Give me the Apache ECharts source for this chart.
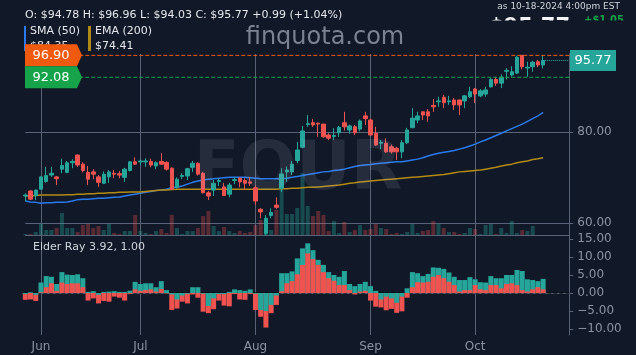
<!DOCTYPE html>
<html>
<head>
<meta charset="utf-8">
<script src="https://cdn.jsdelivr.net/npm/echarts@6/dist/echarts.min.js"></script>
<style>
  html, body { margin: 0; padding: 0; background: #111827; }
  #chart { width: 636px; height: 355px; }
</style>
</head>
<body>
<div id="chart"></div>
<script>
// trading days shown on the chart
var dates = [
  '2024-05-29','2024-05-30','2024-05-31',
  '2024-06-03','2024-06-04','2024-06-05','2024-06-06','2024-06-07','2024-06-10','2024-06-11','2024-06-12','2024-06-13','2024-06-14',
  '2024-06-17','2024-06-18','2024-06-20','2024-06-21','2024-06-24','2024-06-25','2024-06-26','2024-06-27','2024-06-28',
  '2024-07-01','2024-07-02','2024-07-03','2024-07-05','2024-07-08','2024-07-09','2024-07-10','2024-07-11','2024-07-12','2024-07-15',
  '2024-07-16','2024-07-17','2024-07-18','2024-07-19','2024-07-22','2024-07-23','2024-07-24','2024-07-25','2024-07-26','2024-07-29',
  '2024-07-30','2024-07-31',
  '2024-08-01','2024-08-02','2024-08-05','2024-08-06','2024-08-07','2024-08-08','2024-08-09','2024-08-12','2024-08-13','2024-08-14',
  '2024-08-15','2024-08-16','2024-08-19','2024-08-20','2024-08-21','2024-08-22','2024-08-23','2024-08-26','2024-08-27','2024-08-28',
  '2024-08-29','2024-08-30',
  '2024-09-03','2024-09-04','2024-09-05','2024-09-06','2024-09-09','2024-09-10','2024-09-11','2024-09-12','2024-09-13','2024-09-16',
  '2024-09-17','2024-09-18','2024-09-19','2024-09-20','2024-09-23','2024-09-24','2024-09-25','2024-09-26','2024-09-27','2024-09-30',
  '2024-10-01','2024-10-02','2024-10-03','2024-10-04','2024-10-07','2024-10-08','2024-10-09','2024-10-10','2024-10-11','2024-10-14',
  '2024-10-15','2024-10-16','2024-10-17','2024-10-18'
];
// empty slots on the right side of the time axis
var padDates = ['2024-10-21','2024-10-22','2024-10-23','2024-10-24','2024-10-25'];
var monthNames = ['Jan','Feb','Mar','Apr','May','Jun','Jul','Aug','Sep','Oct','Nov','Dec'];

var opens = [
  66.0, 67.1, 66.1,
  67.5, 69.2, 70.6, 70.2, 71.9, 71.2, 73.3, 75.0, 73.0, 71.2,
  71.3, 70.2, 68.8, 70.2, 71.0, 70.9, 70.1, 71.6, 73.5,
  73.5, 73.5, 73.6, 72.6, 73.6, 73.4, 72.1, 67.9, 70.3, 70.4,
  72.3, 73.2, 71.0, 66.7, 67.3, 69.2, 68.0, 66.4, 69.4, 69.9,
  69.4, 69.1,
  67.8, 63.1, 57.8, 61.7, 64.0, 67.7, 71.3, 71.3, 73.8, 76.7,
  81.7, 82.1, 82.0, 81.8, 79.4, 79.1, 79.9, 82.1, 80.5, 81.2,
  80.7, 83.6,
  82.7, 79.8, 77.6, 77.6, 76.8, 76.5, 75.7, 77.7, 81.0, 82.7,
  84.5, 84.5, 85.9, 86.7, 87.7, 86.7, 87.1, 87.1, 86.9, 87.8,
  89.5, 88.0, 88.4, 90.0, 91.6, 90.8, 93.4, 92.6, 93.0, 96.9,
  94.1, 94.4, 95.5, 94.78
];
var closes = [
  66.2, 65.3, 67.3,
  70.2, 70.5, 71.0, 69.8, 72.7, 73.3, 73.6, 72.8, 71.6, 69.7,
  70.8, 69.0, 70.8, 71.3, 70.8, 70.6, 71.9, 73.5, 73.0,
  73.7, 73.7, 72.8, 73.3, 73.0, 71.9, 67.5, 69.7, 70.5, 72.0,
  73.2, 70.8, 66.7, 66.0, 68.8, 69.4, 66.1, 68.4, 69.6, 69.1,
  68.8, 68.8,
  64.9, 62.5, 61.1, 62.4, 63.5, 70.8, 71.7, 73.0, 76.1, 80.3,
  81.9, 81.6, 81.8, 79.0, 78.7, 79.3, 81.1, 81.2, 81.4, 79.9,
  82.5, 83.0,
  79.4, 77.2, 77.8, 75.7, 75.7, 75.7, 77.7, 80.5, 83.1, 83.6,
  83.8, 83.6, 85.6, 86.9, 86.5, 86.9, 86.0, 86.0, 88.0, 88.9,
  88.4, 89.1, 89.3, 91.6, 90.8, 92.1, 93.6, 93.3, 96.5, 94.4,
  94.3, 95.4, 94.78, 95.77
];
var lows = [
  64.9, 65.1, 65.1,
  67.5, 68.9, 70.2, 68.4, 71.0, 71.0, 72.1, 72.4, 71.2, 68.4,
  69.7, 68.0, 68.6, 68.9, 69.9, 69.9, 69.1, 71.4, 72.8,
  72.7, 72.4, 72.3, 71.9, 72.8, 71.6, 67.3, 67.6, 69.7, 69.5,
  71.3, 70.5, 66.6, 65.1, 66.0, 68.2, 66.0, 65.7, 68.6, 67.9,
  67.3, 68.2,
  64.0, 61.1, 57.4, 61.1, 63.1, 66.9, 69.1, 70.6, 73.2, 76.5,
  81.2, 81.2, 79.0, 78.8, 78.3, 78.3, 79.0, 80.4, 79.7, 79.4,
  80.2, 81.6,
  79.3, 77.0, 76.3, 75.5, 75.3, 73.9, 74.3, 77.4, 80.9, 82.0,
  82.7, 82.3, 84.5, 85.6, 85.3, 86.0, 84.9, 83.8, 85.3, 87.5,
  86.4, 87.7, 87.8, 89.8, 90.2, 89.7, 91.6, 92.2, 92.8, 93.8,
  92.2, 93.3, 94.3, 94.03
];
var highs = [
  66.6, 67.3, 67.4,
  70.3, 72.4, 72.4, 70.4, 74.2, 73.7, 74.1, 75.1, 73.4, 72.6,
  71.9, 70.6, 71.4, 71.7, 71.7, 71.5, 72.2, 73.7, 74.5,
  74.0, 74.3, 74.2, 73.6, 75.4, 73.6, 72.3, 70.1, 71.0, 72.2,
  73.7, 73.4, 71.3, 67.1, 69.5, 69.9, 68.9, 68.9, 70.1, 70.1,
  69.9, 70.2,
  68.3, 63.3, 61.8, 63.3, 65.7, 72.1, 72.5, 73.7, 77.9, 81.4,
  83.8, 82.9, 82.1, 81.8, 79.8, 80.9, 81.4, 84.5, 81.7, 81.6,
  82.8, 84.5,
  83.0, 81.2, 78.3, 78.7, 77.3, 76.8, 78.3, 81.0, 85.3, 84.5,
  84.5, 85.1, 87.3, 87.8, 88.2, 88.0, 87.5, 87.1, 88.2, 90.0,
  89.7, 89.5, 90.0, 91.9, 92.2, 92.7, 94.1, 94.5, 96.8, 96.9,
  95.5, 95.7, 95.9, 96.96
];
// volume, thousands of shares
var volumes = [
  25, 25, 75,
  275, 125, 125, 175, 550, 175, 175, 75, 250, 275,
  175, 225, 125, 275, 50, 25, 100, 100, 500,
  100, 50, 25, 100, 150, 50, 500, 175, 25, 100,
  100, 175, 475, 600, 225, 100, 200, 100, 50, 100,
  50, 75,
  250, 375, 425, 125, 625, 1550, 525, 525, 675, 1550,
  725, 475, 600, 500, 100, 350, 50, 325, 75, 125,
  250, 125,
  150, 275, 175, 150, 25, 50, 25, 75, 275, 50,
  100, 125, 350, 275, 175, 75, 75, 25, 50, 175,
  150, 25, 250, 275, 25, 175, 50, 350, 50, 125,
  100, 225, 0, 0
];
var sma50 = [
  64.9, 64.7, 64.6, 64.4, 64.5, 64.5, 64.6, 64.6, 64.7, 64.9,
  65.2, 65.3, 65.3, 65.4, 65.5, 65.5, 65.6, 65.7, 65.8, 66.0,
  66.2, 66.4, 66.6, 66.8, 67.0, 67.2, 67.3, 67.5, 67.8, 68.0,
  68.2, 68.6, 69.0, 69.3, 69.5, 69.7, 69.8, 69.9, 70.0, 70.1,
  70.1, 70.1, 70.1, 70.0, 69.9, 69.8, 69.8, 69.8, 69.8, 69.8,
  69.9, 70.1, 70.3, 70.5, 70.7, 70.9, 71.1, 71.3, 71.4, 71.6,
  71.7, 71.9, 72.2, 72.5, 72.7, 72.8, 72.9, 73.1, 73.2, 73.3,
  73.4, 73.5, 73.5, 73.7, 73.9, 74.1, 74.4, 74.8, 75.1, 75.4,
  75.6, 75.8, 76.0, 76.3, 76.6, 77.0, 77.4, 77.9, 78.3, 78.8,
  79.3, 79.8, 80.3, 80.8, 81.3, 81.8, 82.4, 83.0, 83.6, 84.35
];
var ema200 = [
  66.0, 66.0, 66.1, 66.2, 66.2, 66.2, 66.2, 66.2, 66.3, 66.3,
  66.4, 66.4, 66.5, 66.5, 66.6, 66.6, 66.7, 66.7, 66.8, 66.8,
  66.9, 66.9, 66.9, 67.0, 67.1, 67.2, 67.3, 67.3, 67.4, 67.5,
  67.5, 67.5, 67.5, 67.5, 67.5, 67.5, 67.5, 67.5, 67.5, 67.5,
  67.5, 67.5, 67.5, 67.5, 67.5, 67.5, 67.5, 67.5, 67.5, 67.6,
  67.6, 67.7, 67.7, 67.8, 67.9, 67.9, 68.0, 68.1, 68.2, 68.3,
  68.4, 68.6, 68.8, 68.9, 69.1, 69.2, 69.3, 69.4, 69.5, 69.6,
  69.7, 69.8, 69.9, 70.0, 70.1, 70.2, 70.3, 70.4, 70.5, 70.6,
  70.7, 70.9, 71.1, 71.3, 71.4, 71.5, 71.6, 71.7, 71.9, 72.1,
  72.3, 72.6, 72.8, 73.0, 73.3, 73.5, 73.7, 74.0, 74.2, 74.41
];
// Elder Ray: bull power and bear power
var bullPower = [
  -0.3, 0.2, -0.5,
  2.9, 4.7, 4.5, 2.5, 5.8, 5.1, 5.0, 5.2, 4.1, 0.3,
  0.5, -0.5, 0.3, 0.4, 0.5, 0.3, 0.3, 0.65, 3.1,
  2.5, 2.7, 2.7, 1.6, 3.3, 0.8, -0.4, -1.8, -0.7, -0.2,
  1.6, 1.6, -0.2, -3.6, -1.5, -0.3, -0.3, 0.3, 1.0, 0.8,
  0.6, 1.0,
  -0.2, -4.7, -5.0, -3.3, -0.7, 5.5, 5.5, 6.0, 9.6, 12.4,
  13.8, 11.9, 9.2, 7.8, 5.8, 5.0, 4.5, 6.1, 2.5, 1.9,
  2.5, 3.1,
  1.9, 0.6, -1.8, -1.0, -1.5, -2.7, -1.0, 1.3, 5.8, 5.5,
  4.7, 5.3, 7.1, 7.0, 6.7, 5.7, 4.5, 3.6, 3.6, 4.4,
  3.8, 3.0, 2.9, 4.7, 4.1, 4.1, 5.0, 5.0, 6.4, 6.1,
  3.8, 3.6, 3.3, 3.92
];
var bearPower = [
  -1.9, -1.8, -2.2,
  0.2, 1.6, 2.7, 0.6, 2.9, 2.5, 2.7, 2.7, 1.6, -2.1,
  -1.5, -2.9, -2.2, -2.4, -1.0, -1.3, -2.1, -0.3, 1.0,
  0.6, 0.8, 1.0, 0.4, 1.1, -0.1, -4.7, -4.3, -2.4, -2.9,
  -0.4, -1.3, -5.2, -5.6, -4.5, -2.1, -3.5, -3.7, -0.3, -1.8,
  -1.9, -0.3,
  -4.7, -6.6, -9.6, -5.6, -3.3, 0.5, 2.7, 3.3, 5.2, 7.8,
  11.0, 9.4, 7.8, 5.8, 4.1, 3.4, 2.2, 2.2, 0.8, -0.4,
  0.4, 0.6,
  -2.1, -3.8, -4.0, -4.8, -4.4, -5.5, -5.1, -1.3, 1.6, 3.0,
  2.9, 3.1, 4.5, 5.0, 4.1, 3.1, 2.2, 0.4, 0.8, 0.8,
  2.2, 1.0, 0.8, 2.2, 2.2, 1.3, 2.5, 2.7, 2.2, 0.8,
  0.4, 1.0, 1.6, 1.00
];
var priceTicks = [60, 80];
var elderTicks = [-10, -5, 0, 5, 10, 15];
var levelPrices = [96.90, 92.08];

var BG = '#111827';
var GRID = '#586377';
var AXIS_TEXT = '#8b93a3';
var UP = '#26a69a';
var DOWN = '#ef5350';
var SMA_COLOR = '#2a7af0';
var EMA_COLOR = '#b38b14';
var ORANGE = '#f05a0e';
var GREEN = '#16a34a';
var FONT = 'DejaVu Sans';

var categories = dates.concat(padDates);
var last = dates.length - 1;
var firstCat = categories[0];
var lastCat = categories[categories.length - 1];

var monthStart = {};
dates.forEach(function (d, i) {
    if (i > 0 && d.slice(5, 7) !== dates[i - 1].slice(5, 7)) monthStart[i] = true;
});
function isMonthStart(index) {
    return !!monthStart[index];
}

var candles = dates.map(function (d, i) {
    return [opens[i], closes[i], lows[i], highs[i]];
});
var volumeBars = volumes.map(function (v, i) {
    return {
        value: v,
        itemStyle: { color: closes[i] >= opens[i] ? 'rgba(38,166,154,0.36)' : 'rgba(239,83,80,0.32)' }
    };
});
// the shorter of the two elder bars is drawn in front
var elderBack = [], elderFront = [];
bullPower.forEach(function (b, i) {
    var r = bearPower[i];
    var bullBig = Math.abs(b) >= Math.abs(r);
    elderBack.push({ value: bullBig ? b : r, itemStyle: { color: bullBig ? UP : DOWN } });
    elderFront.push({ value: bullBig ? r : b, itemStyle: { color: bullBig ? DOWN : UP } });
});

function fmtSigned(v) {
    if (v < 0) return '\u2212' + (-v).toFixed(2);
    return v.toFixed(2);
}

// horizontal reference line as a two-point line series
function hLine(xIdx, yIdx, fromCat, toCat, value, color, dash, z) {
    return {
        type: 'line', xAxisIndex: xIdx, yAxisIndex: yIdx, silent: true, z: z,
        symbol: 'none', clip: false,
        data: [[fromCat, value], [toCat, value]],
        itemStyle: { color: color },
        lineStyle: { color: color, type: dash, width: 1 }
    };
}

var chart = echarts.init(document.getElementById('chart'));

var option = {
    animation: false,
    backgroundColor: BG,
    textStyle: { fontFamily: FONT },
    grid: [
        { left: 25.3, right: 66.7, top: 54, bottom: 120, outerBoundsMode: 'none' },
        { left: 25.3, right: 66.7, top: 235, bottom: 20, outerBoundsMode: 'none' }
    ],
    xAxis: [
        {
            type: 'category', gridIndex: 0, data: categories, boundaryGap: false,
            axisLine: { show: true, lineStyle: { color: GRID, width: 1 } },
            axisTick: { show: false },
            axisLabel: { show: false },
            splitLine: { show: true, interval: isMonthStart, lineStyle: { color: GRID, width: 1 } }
        },
        {
            type: 'category', gridIndex: 1, data: categories, boundaryGap: false,
            axisLine: { show: true, lineStyle: { color: GRID, width: 1 } },
            axisTick: { show: true, interval: isMonthStart, length: 4, lineStyle: { color: GRID } },
            axisLabel: {
                interval: isMonthStart, color: AXIS_TEXT, fontSize: 12, margin: 6, fontFamily: FONT,
                formatter: function (v) { return monthNames[+v.slice(5, 7) - 1]; }
            },
            splitLine: { show: true, interval: isMonthStart, lineStyle: { color: GRID, width: 1 } }
        }
    ],
    yAxis: [
        {
            type: 'value', gridIndex: 0, position: 'right', min: 57.43, max: 97.2,
            axisLine: { show: true, lineStyle: { color: GRID } },
            axisTick: { show: true, customValues: priceTicks, length: 4, lineStyle: { color: GRID } },
            axisLabel: {
                customValues: priceTicks, color: AXIS_TEXT, fontSize: 12, margin: 8, fontFamily: FONT,
                formatter: function (v) { return v.toFixed(2); }
            },
            splitLine: { show: true, lineStyle: { color: GRID, width: 1 } }
        },
        {
            type: 'value', gridIndex: 0, min: 0, max: 4525, show: false,
            splitLine: { show: false }
        },
        {
            type: 'value', gridIndex: 1, position: 'right', min: -11.667, max: 16.11,
            axisLine: { show: true, lineStyle: { color: GRID } },
            axisTick: { show: true, customValues: elderTicks, length: 4, lineStyle: { color: GRID } },
            axisLabel: {
                customValues: elderTicks, color: AXIS_TEXT, fontSize: 12, margin: 8, fontFamily: FONT,
                formatter: fmtSigned
            },
            splitLine: { show: false }
        }
    ],
    series: [
        {
            name: 'Volume', type: 'bar', xAxisIndex: 0, yAxisIndex: 1,
            data: volumeBars, barWidth: 4, clip: false, z: 1
        },
        {
            name: 'SMA (50)', type: 'line', xAxisIndex: 0, yAxisIndex: 0, data: sma50,
            symbol: 'none', lineStyle: { color: SMA_COLOR, width: 1.5 }, z: 2
        },
        {
            name: 'EMA (200)', type: 'line', xAxisIndex: 0, yAxisIndex: 0, data: ema200,
            symbol: 'none', lineStyle: { color: EMA_COLOR, width: 1.5 }, z: 2
        },
        {
            name: 'FOUR', type: 'candlestick', xAxisIndex: 0, yAxisIndex: 0, data: candles,
            barWidth: 4, clip: false, z: 3,
            itemStyle: { color: UP, color0: DOWN, borderColor: UP, borderColor0: DOWN, borderWidth: 1 }
        },
        hLine(0, 0, firstCat, lastCat, levelPrices[0], ORANGE, 'dashed', 4),
        hLine(0, 0, firstCat, lastCat, levelPrices[1], GREEN, 'dashed', 4),
        hLine(0, 0, dates[last], lastCat, closes[last], UP, 'dotted', 4),
        hLine(1, 2, firstCat, lastCat, 0, '#000000', 'dashed', 1),
        {
            name: 'Elder back', type: 'bar', xAxisIndex: 1, yAxisIndex: 2,
            data: elderBack, barWidth: 5, barGap: '-100%', clip: false, z: 3
        },
        {
            name: 'Elder front', type: 'bar', xAxisIndex: 1, yAxisIndex: 2,
            data: elderFront, barWidth: 5, barGap: '-100%', clip: false, z: 4
        }
    ]
};
chart.setOption(option);

// tags sit where the price axis puts their levels
var yHigh = chart.convertToPixel({ yAxisIndex: 0 }, levelPrices[0]);
var yLow = chart.convertToPixel({ yAxisIndex: 0 }, levelPrices[1]);
var yClose = chart.convertToPixel({ yAxisIndex: 0 }, closes[last]);

function levelTag(y, color, label) {
    return [
        {
            type: 'polygon', z: 60,
            shape: { points: [[25, y - 11], [77, y - 11], [82, y], [77, y + 11], [25, y + 11]] },
            style: { fill: color }
        },
        {
            type: 'text', z: 61, x: 51, y: y,
            style: { text: label, fill: '#ffffff', font: '13px "' + FONT + '"', align: 'center', verticalAlign: 'middle' }
        }
    ];
}

var change = closes[last] - closes[last - 1];
var headerText = 'O: $' + opens[last].toFixed(2) + ' H: $' + highs[last].toFixed(2) +
    ' L: $' + lows[last].toFixed(2) + ' C: $' + closes[last].toFixed(2) +
    ' +' + change.toFixed(2) + ' (+' + (change / closes[last - 1] * 100).toFixed(2) + '%)';

var graphics = [
    // watermarks
    {
        type: 'text', z: 50, x: 298, y: 172,
        style: { text: 'FOUR', fill: 'rgba(200,210,235,0.11)', font: 'bold 67px "' + FONT + '"', align: 'center', verticalAlign: 'middle' }
    },
    {
        type: 'text', z: 50, x: 325, y: 38,
        style: { text: 'finquota.com', fill: '#7b8393', font: '24px "' + FONT + '"', align: 'center', verticalAlign: 'middle' }
    },
    // header
    {
        type: 'text', z: 55, x: 25, y: 15,
        style: { text: headerText, fill: '#e5e7eb', font: '11px "' + FONT + '"', align: 'left', verticalAlign: 'middle' }
    },
    // big price line, cut off at the top right
    {
        type: 'text', z: 52, x: 489, y: 17,
        style: { text: '$95.77', fill: '#f3f4f6', font: 'bold 21px "' + FONT + '"', align: 'left', verticalAlign: 'top' }
    },
    {
        type: 'text', z: 52, x: 584, y: 15,
        style: { text: '+$1.05', fill: GREEN, font: 'bold 10px "' + FONT + '"', align: 'left', verticalAlign: 'top' }
    },
    { type: 'rect', z: 53, shape: { x: 470, y: 20.5, width: 166, height: 24 }, style: { fill: BG } },
    {
        type: 'text', z: 55, x: 620, y: 7,
        style: { text: 'as 10-18-2024 4:00pm EST', fill: '#d1d5db', font: '9px "' + FONT + '"', align: 'right', verticalAlign: 'middle' }
    },
    // legend
    { type: 'rect', z: 55, shape: { x: 24, y: 26, width: 2, height: 25 }, style: { fill: SMA_COLOR } },
    {
        type: 'text', z: 55, x: 30, y: 31.5,
        style: { text: 'SMA (50)', fill: '#e5e7eb', font: '11px "' + FONT + '"', align: 'left', verticalAlign: 'middle' }
    },
    {
        type: 'text', z: 55, x: 30, y: 46,
        style: { text: '$' + sma50[last].toFixed(2), fill: '#e5e7eb', font: '11px "' + FONT + '"', align: 'left', verticalAlign: 'middle' }
    },
    { type: 'rect', z: 55, shape: { x: 88, y: 26, width: 3, height: 25 }, style: { fill: EMA_COLOR } },
    {
        type: 'text', z: 55, x: 95, y: 31.5,
        style: { text: 'EMA (200)', fill: '#e5e7eb', font: '11px "' + FONT + '"', align: 'left', verticalAlign: 'middle' }
    },
    {
        type: 'text', z: 55, x: 95, y: 46,
        style: { text: '$' + ema200[last].toFixed(2), fill: '#e5e7eb', font: '11px "' + FONT + '"', align: 'left', verticalAlign: 'middle' }
    },
    // last close tag
    { type: 'rect', z: 60, shape: { x: 570, y: yClose - 10.5, width: 46, height: 21 }, style: { fill: UP } },
    {
        type: 'text', z: 61, x: 593, y: yClose,
        style: { text: closes[last].toFixed(2), fill: '#ffffff', font: '13px "' + FONT + '"', align: 'center', verticalAlign: 'middle' }
    },
    // elder ray title
    {
        type: 'text', z: 55, x: 33, y: 247,
        style: {
            text: 'Elder Ray ' + bullPower[last].toFixed(2) + ', ' + bearPower[last].toFixed(2),
            fill: '#d1d5db', font: '11px "' + FONT + '"', align: 'left', verticalAlign: 'middle'
        }
    }
].concat(levelTag(yHigh, ORANGE, levelPrices[0].toFixed(2)), levelTag(yLow, GREEN, levelPrices[1].toFixed(2)));

chart.setOption({ graphic: graphics });
</script>
</body>
</html>
